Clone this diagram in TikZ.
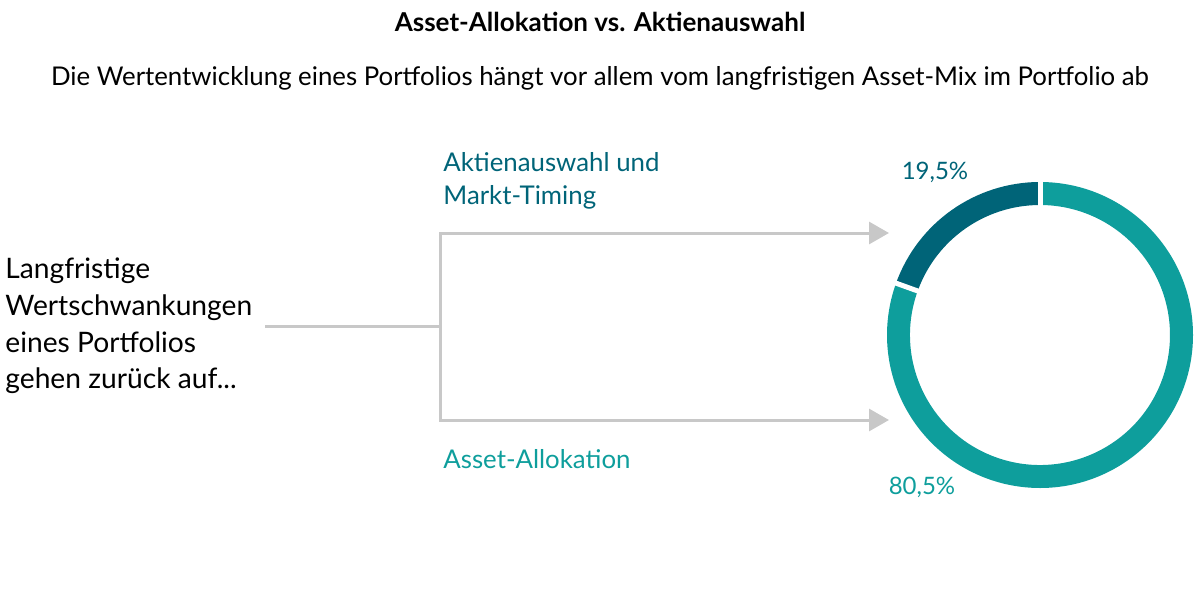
\documentclass[tikz,border=0pt]{standalone}
\usepackage{fontspec}
\setmainfont{Lato}
\usetikzlibrary{arrows.meta}
\definecolor{lt}{HTML}{0E9E9C}
\definecolor{dk}{HTML}{006478}
\definecolor{gr}{HTML}{C8C8C8}
\begin{document}
\begin{tikzpicture}[x=0.5pt,y=-0.5pt,
  conn/.style={draw=gr,line width=1.5pt},
  arr/.style={conn,-{Triangle[length=10pt,width=11pt]}},
  lbl/.style={anchor=west,inner sep=0pt,font=\fontsize{12.9}{14}\selectfont}]
\useasboundingbox (0,0) rectangle (1200,600);
\node[font=\bfseries\fontsize{13}{15}\selectfont] (t) at (600,22) {Asset-Allokation vs. Aktienauswahl};
\node[font=\fontsize{12.9}{15}\selectfont] (s) at (600,78) {Die Wertentwicklung eines Portfolios hängt vor allem vom langfristigen Asset-Mix im Portfolio ab};
\node[anchor=west,inner sep=0pt,align=left,font=\fontsize{14.1}{18.3}\selectfont] (l) at (5,326) {Langfristige\\Wertschwankungen\\eines Portfolios\\gehen zurück auf...};
\coordinate (a) at (265,326);
\coordinate (b) at (440,326);
\coordinate (bt) at (440,233);
\coordinate (bb) at (440,420);
\coordinate (et) at (889,233);
\coordinate (eb) at (889,420);
\draw[conn] (a) -- (b);
\draw[arr] (b) -- (bt) -- (et);
\draw[arr] (b) -- (bb) -- (eb);
\node[lbl,text=dk,align=left,font=\fontsize{12.9}{16.5}\selectfont] (k1) at (443,181) {Aktienauswahl und\\Markt-Timing};
\node[lbl,text=lt] (k2) at (443,459) {Asset-Allokation};
% donut (y axis flipped: angles negated)
\coordinate (c) at (1040,335);
\fill[lt] (c) ++(-90:153) arc[start angle=-90,end angle=199.8,radius=153] -- ++(-160.2:-23) arc[start angle=199.8,end angle=-90,radius=130] -- cycle;
\fill[dk] (c) ++(-90:153) arc[start angle=-90,end angle=-160.2,radius=153] -- ++(-160.2:-23) arc[start angle=-160.2,end angle=-90,radius=130] -- cycle;
\draw[white,line width=2.5pt] (c) ++(-90:128) -- ++(-90:28);
\draw[white,line width=2.5pt] (c) ++(-160.2:128) -- ++(-160.2:28);
\node[text=dk,font=\fontsize{12}{14}\selectfont] (p1) at (935,172) {19,5\%};
\node[text=lt,font=\fontsize{12}{14}\selectfont] (p2) at (922,487) {80,5\%};
\end{tikzpicture}
\end{document}
